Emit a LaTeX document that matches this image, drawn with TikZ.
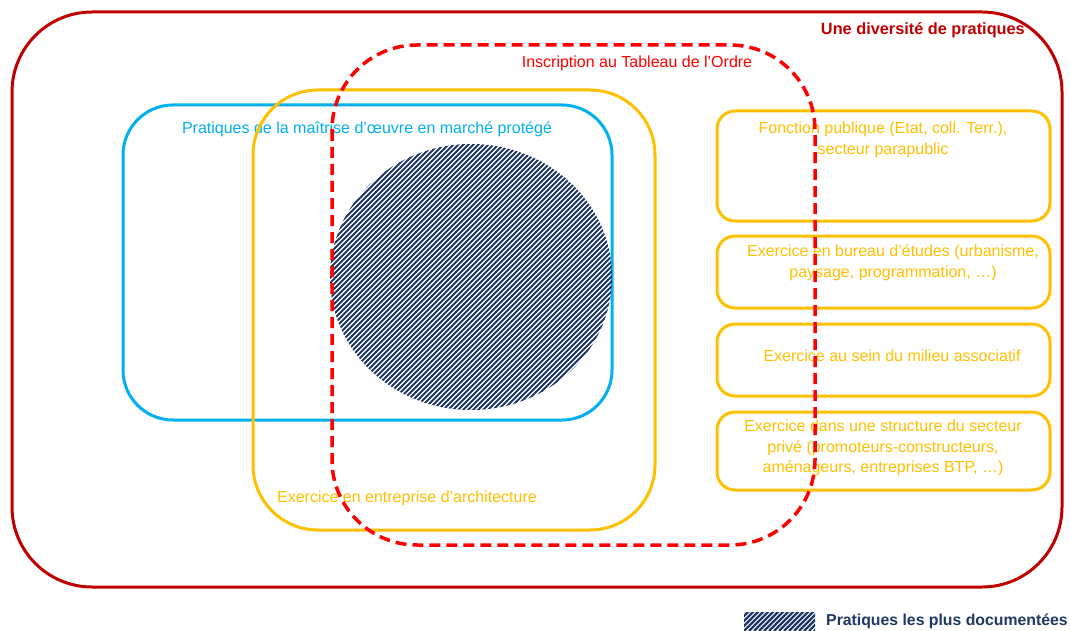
\documentclass[tikz,border=0pt]{standalone}
\usepackage{fontspec}
\setmainfont{Liberation Sans}
\definecolor{cOuter}{HTML}{C00000}
\definecolor{cDash}{HTML}{FF0000}
\definecolor{cBlue}{HTML}{00B0F0}
\definecolor{cOrange}{HTML}{FFC000}
\definecolor{cNavy}{HTML}{203864}
\tikzset{
  lbl/.style={inner sep=0pt, font=\fontsize{16}{20.5}\selectfont, align=center},
  boldlbl/.style={inner sep=0pt, font=\fontsize{16.3}{20}\selectfont\bfseries},
  sidebox/.style={draw=cOrange, line width=3pt, rounded corners=18pt},
  hatchline/.style={cNavy, line width=1.8pt}
}
\begin{document}
\begin{tikzpicture}[x=1pt,y=-1pt]
\useasboundingbox (0,0) rectangle (1070,631);
\fill[white] (0,0) rectangle (1070,631);
% texts
\node[boldlbl, anchor=east, text=cOuter] (tdiv) at (1025,30) {Une diversité de pratiques};
\node[lbl, text=cDash] (tins) at (637,63) {Inscription au Tableau de l'Ordre};
\node[lbl, text=cBlue] (tmoe) at (367,129) {Pratiques de la maîtrise d'œuvre en marché protégé};
\node[lbl, text=cOrange] (tarch) at (407,498) {Exercice en entreprise d'architecture};
\node[lbl, text=cOrange] (t1) at (883,140) {Fonction publique (Etat, coll. Terr.),\\secteur parapublic};
\node[lbl, text=cOrange] (t2) at (893,263) {Exercice en bureau d'études (urbanisme,\\paysage, programmation, …)};
\node[lbl, text=cOrange] (t3) at (892,356) {Exercice au sein du milieu associatif};
\node[lbl, text=cOrange] (t4) at (883,448) {Exercice dans une structure du secteur\\privé (promoteurs-constructeurs,\\aménageurs, entreprises BTP, …)};
\node[boldlbl, anchor=west, text=cNavy, font=\fontsize{15.8}{20}\selectfont\bfseries] (tleg) at (826,621) {Pratiques les plus documentées};
% outer frame
\draw[cOuter, line width=3pt, rounded corners=80pt] (12,12) rectangle (1062,587);
% blue
\draw[cBlue, line width=3pt, rounded corners=50pt] (123,105) rectangle (612,420);
% orange big
\draw[cOrange, line width=3pt, rounded corners=65pt] (253,90) rectangle (655,530);
% hatched ellipse
\begin{scope}
\clip (471,277) ellipse [x radius=141, y radius=133];
\foreach \i in {-300,-295,...,300} \draw[hatchline] (471+\i-150,277+150) -- (471+\i+150,277-150);
\end{scope}
% side boxes
\draw[sidebox] (717,111) rectangle (1050,221);
\draw[sidebox] (717,236) rectangle (1050,308);
\draw[sidebox] (717,324) rectangle (1050,396);
\draw[sidebox] (717,412) rectangle (1050,490);
% red dashed
\draw[cDash, line width=3.5pt, dash pattern=on 11pt off 6pt, rounded corners=85pt] (332,45) rectangle (815,545);
% legend hatch
\begin{scope}
\clip (744,612) rectangle (815,631);
\foreach \i in {-40,-35,...,120} \draw[hatchline, line width=2.2pt] (744+\i-20,631) -- (744+\i,611);
\end{scope}
\end{tikzpicture}
\end{document}
